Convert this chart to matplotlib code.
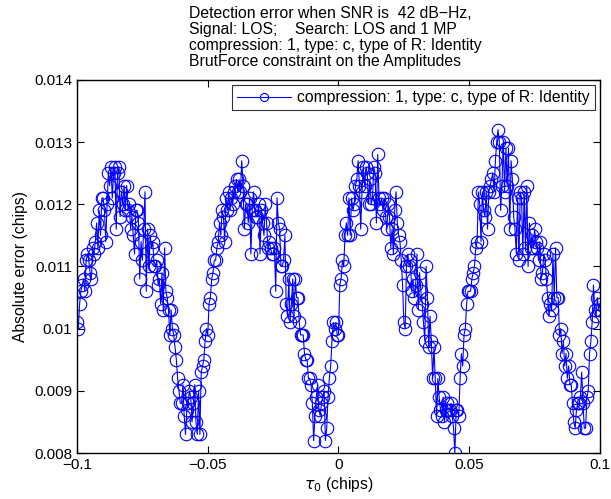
"""
Detection error vs tau_0 (MATLAB-style line plot with open circles)
"""

import numpy as np
import matplotlib
matplotlib.use("Agg")
import matplotlib.pyplot as plt

plt.rcParams['font.family'] = ['Liberation Sans', 'DejaVu Sans']

# tau_0 grid: -0.1 .. 0.1 in steps of 0.0005
tau0 = np.linspace(-0.1, 0.1, 401)

# absolute error (chips), one row per 0.01 chips
abs_error = [
    0.0101, 0.0100, 0.0104, 0.0106, 0.0107, 0.0108, 0.0106, 0.0111, 0.0112, 0.0111,
    0.0109, 0.0108, 0.0113, 0.0112, 0.0114, 0.0117, 0.0113, 0.0119, 0.0115, 0.0121,
    0.0121, 0.0119, 0.0114, 0.0120, 0.0125, 0.0123, 0.0126, 0.0121, 0.0125, 0.0126,
    0.0116, 0.0125, 0.0126, 0.0118, 0.0122, 0.0120, 0.0123, 0.0119, 0.0123, 0.0119,
    0.0120, 0.0116, 0.0118, 0.0115, 0.0112, 0.0119, 0.0119, 0.0117, 0.0108, 0.0114,
    0.0111, 0.0116, 0.0122, 0.0106, 0.0116, 0.0110, 0.0115, 0.0113, 0.0114, 0.0110,
    0.0110, 0.0111, 0.0107, 0.0108, 0.0104, 0.0109, 0.0103, 0.0113, 0.0106, 0.0105,
    0.0103, 0.0099, 0.0103, 0.0100, 0.0099, 0.0097, 0.0095, 0.0092, 0.0090, 0.0088,
    0.0088, 0.0091, 0.0086, 0.0083, 0.0087, 0.0088, 0.0090, 0.0089, 0.0085, 0.0088,
    0.0091, 0.0085, 0.0083, 0.0090, 0.0083, 0.0093, 0.0094, 0.0095, 0.0098, 0.0100,
    0.0099, 0.0104, 0.0105, 0.0108, 0.0109, 0.0111, 0.0111, 0.0113, 0.0114, 0.0117,
    0.0115, 0.0119, 0.0118, 0.0114, 0.0121, 0.0119, 0.0122, 0.0119, 0.0121, 0.0120,
    0.0122, 0.0123, 0.0124, 0.0122, 0.0124, 0.0122, 0.0127, 0.0123, 0.0116, 0.0120,
    0.0120, 0.0117, 0.0121, 0.0112, 0.0119, 0.0122, 0.0119, 0.0118, 0.0118, 0.0120,
    0.0112, 0.0119, 0.0117, 0.0115, 0.0120, 0.0117, 0.0113, 0.0114, 0.0113, 0.0112,
    0.0112, 0.0113, 0.0106, 0.0121, 0.0117, 0.0116, 0.0110, 0.0110, 0.0111, 0.0115,
    0.0104, 0.0102, 0.0108, 0.0101, 0.0104, 0.0108, 0.0102, 0.0108, 0.0105, 0.0105,
    0.0101, 0.0099, 0.0099, 0.0099, 0.0096, 0.0095, 0.0095, 0.0092, 0.0092, 0.0091,
    0.0088, 0.0082, 0.0086, 0.0089, 0.0091, 0.0087, 0.0086, 0.0088, 0.0089, 0.0090,
    0.0082, 0.0084, 0.0089, 0.0092, 0.0094, 0.0098, 0.0101, 0.0100, 0.0101, 0.0099,
    0.0099, 0.0107, 0.0108, 0.0111, 0.0110, 0.0115, 0.0117, 0.0115, 0.0121, 0.0115,
    0.0121, 0.0119, 0.0120, 0.0123, 0.0124, 0.0127, 0.0123, 0.0116, 0.0122, 0.0126,
    0.0123, 0.0126, 0.0125, 0.0120, 0.0124, 0.0120, 0.0121, 0.0126, 0.0125, 0.0117,
    0.0128, 0.0121, 0.0120, 0.0121, 0.0119, 0.0121, 0.0118, 0.0116, 0.0120, 0.0118,
    0.0113, 0.0116, 0.0112, 0.0119, 0.0122, 0.0117, 0.0115, 0.0114, 0.0111, 0.0107,
    0.0101, 0.0100, 0.0110, 0.0112, 0.0110, 0.0111, 0.0106, 0.0108, 0.0105, 0.0107,
    0.0112, 0.0103, 0.0109, 0.0106, 0.0104, 0.0101, 0.0098, 0.0110, 0.0105, 0.0097,
    0.0102, 0.0098, 0.0092, 0.0097, 0.0092, 0.0086, 0.0092, 0.0089, 0.0087, 0.0086,
    0.0089, 0.0085, 0.0087, 0.0088, 0.0087, 0.0087, 0.0088, 0.0086, 0.0084, 0.0080,
    0.0087, 0.0087, 0.0086, 0.0092, 0.0096, 0.0094, 0.0099, 0.0100, 0.0104, 0.0106,
    0.0106, 0.0106, 0.0108, 0.0109, 0.0110, 0.0113, 0.0114, 0.0122, 0.0120, 0.0114,
    0.0122, 0.0119, 0.0118, 0.0122, 0.0116, 0.0122, 0.0123, 0.0124, 0.0125, 0.0122,
    0.0127, 0.0130, 0.0132, 0.0130, 0.0119, 0.0123, 0.0130, 0.0122, 0.0129, 0.0123,
    0.0129, 0.0116, 0.0127, 0.0124, 0.0118, 0.0116, 0.0112, 0.0121, 0.0111, 0.0122,
    0.0121, 0.0112, 0.0122, 0.0113, 0.0123, 0.0110, 0.0117, 0.0113, 0.0115, 0.0113,
    0.0116, 0.0114, 0.0113, 0.0111, 0.0114, 0.0108, 0.0109, 0.0112, 0.0111, 0.0108,
    0.0105, 0.0102, 0.0104, 0.0103, 0.0112, 0.0105, 0.0113, 0.0105, 0.0105, 0.0099,
    0.0100, 0.0096, 0.0098, 0.0094, 0.0096, 0.0092, 0.0094, 0.0091, 0.0091, 0.0088,
    0.0085, 0.0084, 0.0087, 0.0088, 0.0088, 0.0089, 0.0093, 0.0088, 0.0084, 0.0084,
    0.0089, 0.0090, 0.0096, 0.0098, 0.0101, 0.0107, 0.0103, 0.0102, 0.0105, 0.0103,
    0.0104,
]

x_ticks = [-0.1, -0.05, 0, 0.05, 0.1]
x_tick_labels = ["\u22120.1", "\u22120.05", "0", "0.05", "0.1"]
y_ticks = [0.008, 0.009, 0.010, 0.011, 0.012, 0.013, 0.014]
y_tick_labels = ["0.008", "0.009", "0.01", "0.011", "0.012", "0.013", "0.014"]

title_lines = ["Detection error when SNR is  42 dB\u2212Hz,",
               "Signal: LOS;    Search: LOS and 1 MP",
               "compression: 1, type: c, type of R: Identity",
               "BrutForce constraint on the Amplitudes"]
legend_label = "compression: 1, type: c, type of R: Identity"


fig = plt.figure(figsize=(6.11, 4.99), dpi=100)
ax = fig.add_axes([0.126, 0.092, 0.856, 0.748])

ax.plot(tau0, abs_error, color="blue", linewidth=0.8, marker="o",
        markersize=9, markerfacecolor="none", markeredgecolor="blue",
        markeredgewidth=0.8, label=legend_label)

ax.set_xlim(-0.1, 0.1)
ax.set_ylim(0.008, 0.014)
ax.set_xticks(x_ticks)
ax.set_xticklabels(x_tick_labels)
ax.set_yticks(y_ticks)
ax.set_yticklabels(y_tick_labels)
ax.tick_params(direction="in", top=True, right=True, labelsize=11, length=5)
for s in ax.spines.values():
    s.set_linewidth(1.0)

ax.set_xlabel(r"$\tau_0$ (chips)", fontsize=11.3, labelpad=2)
ax.set_ylabel("Absolute error (chips)", fontsize=11.3)

# MATLAB pads the title lines, so they come out left aligned
fig.text(0.309, 1 - 6 / 499, "\n".join(title_lines), ha="left", va="top",
         fontsize=11.3, linespacing=1.08, multialignment="left")

leg = ax.legend(loc="upper right", fontsize=11.3, frameon=True, fancybox=False,
                edgecolor="black", borderaxespad=0.35, borderpad=0.3,
                handlelength=3.45, handletextpad=0.4, markerscale=0.65)
leg.get_frame().set_linewidth(0.8)

fig.savefig("out.png", dpi=100)
